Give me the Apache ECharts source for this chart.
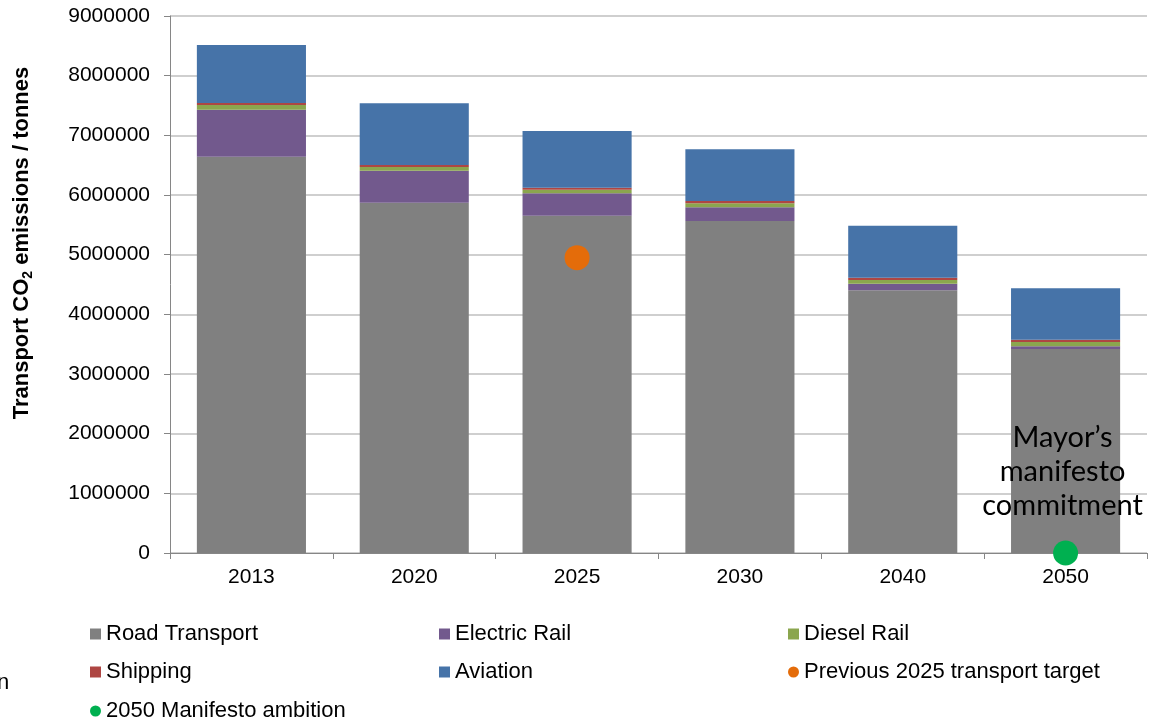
<!DOCTYPE html>
<html>
<head>
<meta charset="utf-8">
<script src="https://cdn.jsdelivr.net/npm/echarts@6/dist/echarts.min.js"></script>
<style>
html,body{margin:0;padding:0;background:#fff;}
#chart{width:1163px;height:720px;}
</style>
</head>
<body>
<div id="chart"></div>
<script>
var categories = ['2013', '2020', '2025', '2030', '2040', '2050'];
var roadTransport = [6641000, 5871000, 5653000, 5564000, 4403000, 3419000];
var electricRail = [788000, 536000, 375000, 230000, 111000, 45000];
var dieselRail = [79000, 62000, 60000, 67000, 62000, 72000];
var shipping = [34000, 34000, 34000, 39000, 39000, 39000];
var aviation = [972000, 1034000, 950000, 866000, 871000, 861000];
var previousTarget = ['-', '-', 4950000, '-', '-', '-'];
var manifestoAmbition = ['-', '-', '-', '-', '-', 0];
var yTicks = [0, 1000000, 2000000, 3000000, 4000000, 5000000, 6000000, 7000000, 8000000, 9000000];

var FONT = '"Liberation Sans", Arial, sans-serif';
var chart = echarts.init(document.getElementById('chart'));

function barSeries(name, data, color) {
  return {
    name: name, type: 'bar', stack: 'total', data: data,
    barWidth: '67%',
    itemStyle: { color: color },
    emphasis: { disabled: true }
  };
}

var legendText = { fontFamily: FONT, fontSize: 22, color: '#000', lineHeight: 24 };
function legendCol(left, top, items) {
  return { orient: 'vertical', left: left, top: top, itemWidth: 11, itemHeight: 11, itemGap: 14,
    textStyle: legendText, data: items };
}

chart.setOption({
  animation: false,
  backgroundColor: '#fff',
  grid: { left: 170, right: 16, top: 16, bottom: 167 },
  xAxis: {
    type: 'category', data: categories,
    axisLine: { lineStyle: { color: '#868686', width: 1 } },
    axisTick: { show: true, length: 6, alignWithLabel: false, lineStyle: { color: '#868686' } },
    axisLabel: { fontFamily: FONT, fontSize: 21, color: '#000', margin: 14 }
  },
  yAxis: {
    type: 'value', min: yTicks[0], max: yTicks[yTicks.length - 1], interval: 1000000,
    axisLine: { show: true, lineStyle: { color: '#868686', width: 1 } },
    axisTick: { show: true, length: 6, lineStyle: { color: '#868686' } },
    splitLine: { lineStyle: { color: '#bfbfbf', width: 1.5 } },
    axisLabel: { fontFamily: FONT, fontSize: 21, color: '#000', margin: 20, formatter: function (v) { return String(v); } }
  },
  legend: [
    legendCol(85, 617, [{ name: 'Road Transport', icon: 'rect' }, { name: 'Shipping', icon: 'rect' }]),
    legendCol(85, 694, [{ name: '2050 Manifesto ambition', icon: 'circle' }]),
    legendCol(434, 617, [{ name: 'Electric Rail', icon: 'rect' }, { name: 'Aviation', icon: 'rect' }]),
    legendCol(783, 617, [{ name: 'Diesel Rail', icon: 'rect' }, { name: 'Previous 2025 transport target', icon: 'circle' }])
  ],
  graphic: [
    {
      type: 'text', x: 22, y: 243, rotation: Math.PI / 2,
      style: {
        text: '{a|Transport CO}{b|2}{a| emissions / tonnes}',
        align: 'center', verticalAlign: 'middle',
        rich: {
          a: { fontFamily: FONT, fontSize: 22, fontWeight: 'bold', fill: '#000', lineHeight: 26 },
          b: { fontFamily: FONT, fontSize: 14, fontWeight: 'bold', fill: '#000', verticalAlign: 'bottom', lineHeight: 20 }
        }
      }
    },
    {
      type: 'text', x: -3, y: 683,
      style: { text: 'n', fontFamily: FONT, fontSize: 22, fill: '#000', verticalAlign: 'middle' }
    }
  ],
  series: [
    barSeries('Road Transport', roadTransport, '#808080'),
    barSeries('Electric Rail', electricRail, '#72598d'),
    barSeries('Diesel Rail', dieselRail, '#8ba64e'),
    barSeries('Shipping', shipping, '#ae4643'),
    barSeries('Aviation', aviation, '#4673a8'),
    {
      name: 'Previous 2025 transport target', type: 'scatter', data: previousTarget,
      symbol: 'circle', symbolSize: 25, clip: false, z: 5,
      itemStyle: { color: '#e46c0a', opacity: 1 }
    },
    {
      name: '2050 Manifesto ambition', type: 'scatter', data: manifestoAmbition,
      symbol: 'circle', symbolSize: 25, clip: false, z: 5,
      itemStyle: { color: '#00b050', opacity: 1 },
      label: {
        show: true, position: 'top', distance: 18,
        formatter: 'Mayor\u2019s\nmanifesto\ncommitment',
        fontFamily: 'Lato, "Noto Sans", sans-serif', fontSize: 29, lineHeight: 34,
        color: '#000', align: 'center', offset: [-3, 0]
      }
    }
  ]
});
</script>
</body>
</html>
